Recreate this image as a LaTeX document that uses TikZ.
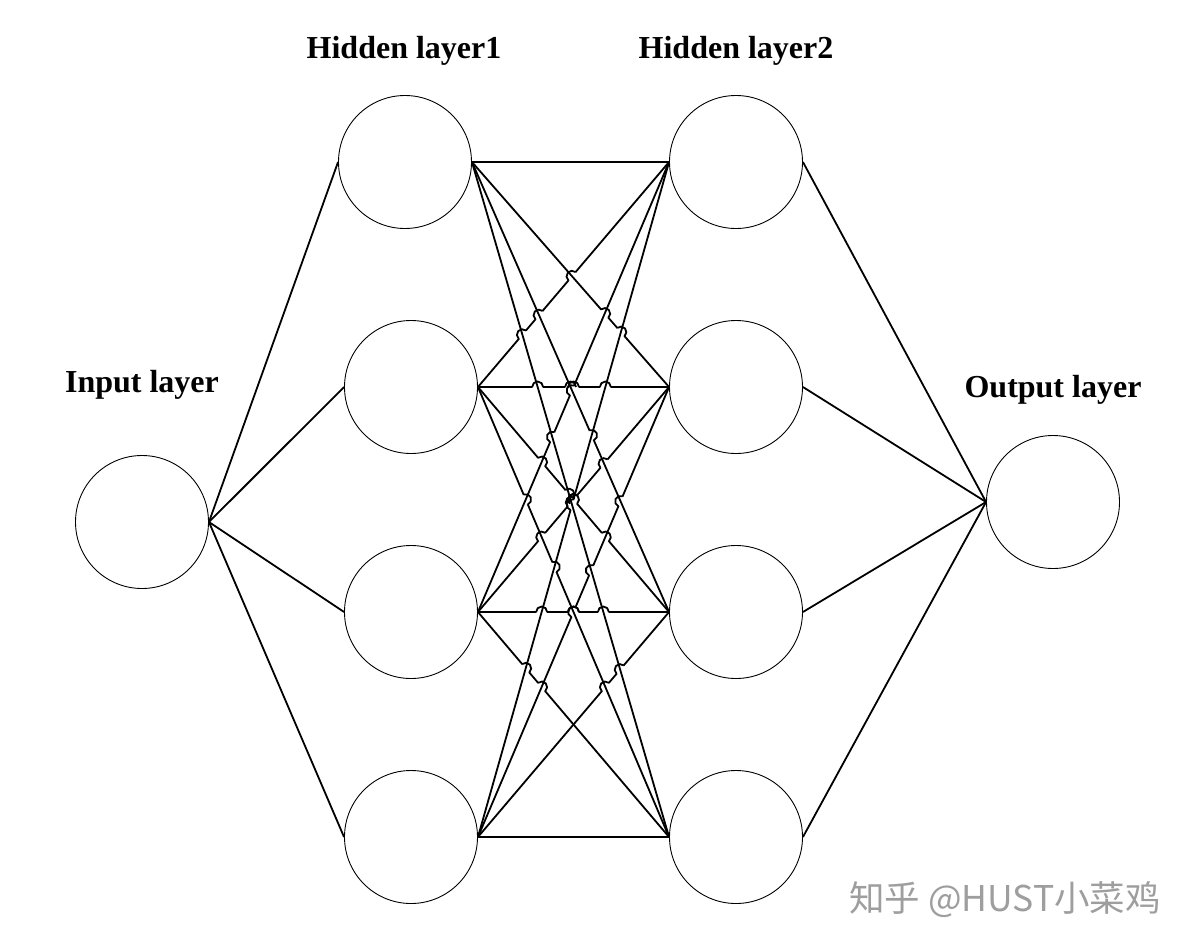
\documentclass[tikz,border=0pt]{standalone}
\usepackage{fontspec}
\setmainfont{Liberation Serif}
\newfontfamily\cjkfont{Noto Sans CJK SC}
\newif\ifhop
\def\hnohop{h14h23h13h24}
\def\hr{5.5}
\newcommand\hopcalc[4]{%
  \pgfpointanchor{#1}{east}\pgfgetlastxy{\hpx}{\hpy}%
  \pgfpointanchor{#2}{west}\pgfgetlastxy{\hqx}{\hqy}%
  \pgfpointanchor{#3}{east}\pgfgetlastxy{\hrx}{\hry}%
  \pgfpointanchor{#4}{west}\pgfgetlastxy{\hsx}{\hsy}%
  \pgfmathsetmacro\hdax{(\hqx-\hpx)/100}%
  \pgfmathsetmacro\hday{(\hqy-\hpy)/100}%
  \pgfmathsetmacro\hdbx{(\hsx-\hrx)/100}%
  \pgfmathsetmacro\hdby{(\hsy-\hry)/100}%
  \pgfmathsetmacro\hwx{(\hrx-\hpx)/100}%
  \pgfmathsetmacro\hwy{(\hry-\hpy)/100}%
  \pgfmathsetmacro\hden{\hdax*\hdby-\hday*\hdbx}%
  \hopfalse
  \pgfmathparse{abs(\hden)>0.0001?1:0}%
  \ifdim\pgfmathresult pt>0.5pt
    \pgfmathsetmacro\ht{(\hwx*\hdby-\hwy*\hdbx)/\hden}%
    \pgfmathsetmacro\hs{(\hwx*\hday-\hwy*\hdax)/\hden}%
    \pgfmathparse{((\ht>0.02)&&(\ht<0.98)&&(\hs>0.02)&&(\hs<0.98))?1:0}%
    \ifdim\pgfmathresult pt>0.5pt \hoptrue\fi
  \fi
  \edef\hpair{#1#2#3#4}%
  \ifx\hpair\hnohop\hopfalse\fi
  \ifhop
    \pgfmathsetmacro\hcx{\hpx+100*\ht*\hdax}%
    \pgfmathsetmacro\hcy{\hpy+100*\ht*\hday}%
    \pgfmathsetmacro\hlen{sqrt(\hdax*\hdax+\hday*\hday)}%
    \pgfmathsetmacro\hux{\hdax/\hlen}%
    \pgfmathsetmacro\huy{\hday/\hlen}%
    \pgfmathsetmacro\hk{0.5523*\hr}%
    \pgfmathsetmacro\hAx{\hcx-\hr*\hux}\pgfmathsetmacro\hAy{\hcy-\hr*\huy}%
    \pgfmathsetmacro\hBx{\hcx-\hr*\huy}\pgfmathsetmacro\hBy{\hcy+\hr*\hux}%
    \pgfmathsetmacro\hCx{\hcx+\hr*\hux}\pgfmathsetmacro\hCy{\hcy+\hr*\huy}%
    \pgfmathsetmacro\hkAx{\hAx-\hk*\huy}\pgfmathsetmacro\hkAy{\hAy+\hk*\hux}%
    \pgfmathsetmacro\hkBx{\hBx-\hk*\hux}\pgfmathsetmacro\hkBy{\hBy-\hk*\huy}%
    \pgfmathsetmacro\hkCx{\hBx+\hk*\hux}\pgfmathsetmacro\hkCy{\hBy+\hk*\huy}%
    \pgfmathsetmacro\hkDx{\hCx-\hk*\huy}\pgfmathsetmacro\hkDy{\hCy+\hk*\hux}%
  \fi
}
\begin{document}
\begin{tikzpicture}[x=1pt,y=-1pt,
  neuron/.style={circle,draw=black,line width=0.9pt,minimum size=133pt,inner sep=0pt},
  conn/.style={draw=black,line width=1.8pt,line join=round},
  lbl/.style={font=\fontsize{32}{38}\selectfont\bfseries,anchor=base,inner sep=0pt},
  wm/.style={font=\cjkfont\fontsize{35.5}{42}\selectfont,text=black!38,anchor=base west,inner sep=0pt}]
\useasboundingbox[fill=white] (0,0) rectangle (1189,946);

% neurons
\node[neuron] (in)  at (142,522) {};
\node[neuron] (h11) at (405,162) {};
\node[neuron] (h12) at (411,387) {};
\node[neuron] (h13) at (411,612) {};
\node[neuron] (h14) at (411,837) {};
\node[neuron] (h21) at (736,162) {};
\node[neuron] (h22) at (736,387) {};
\node[neuron] (h23) at (736,612) {};
\node[neuron] (h24) at (736,837) {};
\node[neuron] (out) at (1053,502) {};

% labels
\node[lbl] (lin)  at (142,392) {Input layer};
\node[lbl] (lh1)  at (404,58) {Hidden layer1};
\node[lbl] (lh2)  at (736,58) {Hidden layer2};
\node[lbl] (lout) at (1053,397) {Output layer};

% input and output connectors
\foreach \h in {h11,h12,h13,h14} \draw[conn] (in.east) -- (\h.west);
\foreach \h in {h21,h22,h23,h24} \draw[conn] (\h.east) -- (out.west);

% hidden-to-hidden connectors with line jumps
\def\hoplinks{h11/h24,h14/h21,h11/h23,h13/h21,h12/h24,h14/h22,h11/h22,h12/h21,h12/h23,h13/h22,h13/h24,h14/h23,h11/h21,h12/h22,h13/h23,h14/h24}
\foreach \a/\b [count=\k] in \hoplinks {
  \begin{scope}[even odd rule]
    \foreach \c/\d [count=\j] in \hoplinks {
      \ifnum\j<\k
        \hopcalc{\a}{\b}{\c}{\d}%
        \ifhop
          \clip (0,0) rectangle (1189,946) (\hcx pt,\hcy pt) circle[radius=\hr];
        \fi
      \fi
    }
    \draw[conn] (\a.east) -- (\b.west);
  \end{scope}
  \foreach \c/\d [count=\j] in \hoplinks {
    \ifnum\j<\k
      \hopcalc{\a}{\b}{\c}{\d}%
      \ifhop
        \draw[conn] (\hAx pt,\hAy pt) .. controls (\hkAx pt,\hkAy pt) and (\hkBx pt,\hkBy pt) .. (\hBx pt,\hBy pt)
          .. controls (\hkCx pt,\hkCy pt) and (\hkDx pt,\hkDy pt) .. (\hCx pt,\hCy pt);
      \fi
    \fi
  }
}

% watermark
\node[wm] (mark) at (849,911) {知乎 @HUST小菜鸡};
\end{tikzpicture}
\end{document}
